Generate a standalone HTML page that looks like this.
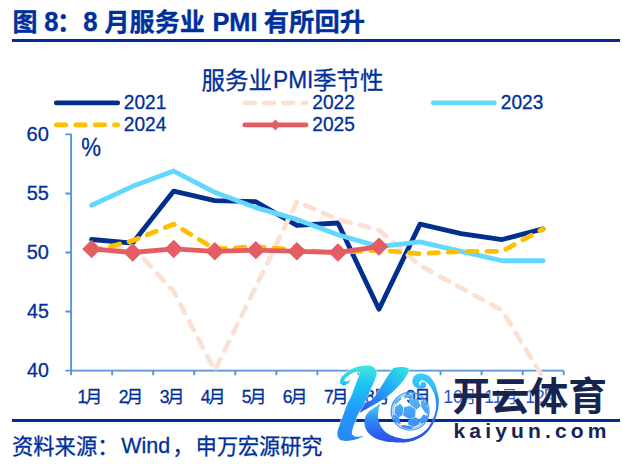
<!DOCTYPE html>
<html lang="zh"><head><meta charset="utf-8"><title>图 8：8 月服务业 PMI 有所回升</title>
<style>
html,body{margin:0;padding:0;background:#fff;overflow:hidden}
body{width:622px;height:464px;position:relative;font-family:"Liberation Sans",sans-serif}
svg{position:absolute;left:0;top:0;display:block}
svg [fill="#002f99"]{stroke:#002f99;stroke-width:.3px}
</style></head><body>
<svg width="622" height="464" viewBox="0 0 622 464">
<g font-family="'Liberation Sans', 'Noto Sans CJK SC', sans-serif" font-weight="bold" fill="#003099" stroke="#003099" stroke-width=".35"><text x="12.5" y="31" font-size="25" font-weight="bold">图</text><text x="57" y="31" font-size="25" font-weight="bold">：</text><text x="104.5" y="31" font-size="25.1" font-weight="bold">月服务业</text><text x="263.8" y="31" font-size="25.3" font-weight="bold">有所回升</text></g>
<g font-family="Liberation Sans, sans-serif" font-weight="bold" fill="#003099" stroke="#003099" stroke-width=".35"><text transform="translate(44.19 31.04) scale(0.9412 1)" font-size="27.12" font-weight="bold">8</text><text transform="translate(83.28 31.04) scale(0.9487 1)" font-size="27.12" font-weight="bold">8</text><text transform="translate(212.40 30.80) scale(0.9588 1)" font-size="26.45" font-weight="bold">PMI</text></g>
<rect x="12" y="39" width="608" height="3" fill="#002c94"/>
<rect x="12" y="419" width="608" height="3" fill="#002c94"/>
<g font-family="'Liberation Sans', 'Noto Sans CJK SC', sans-serif" fill="#002f99"><text x="201.5" y="88.8" font-size="23.5">服务业</text><text x="313" y="88.8" font-size="23.5">季节性</text></g>
<g font-family="Liberation Sans, sans-serif" fill="#002f99"><text transform="translate(273.04 87.90) scale(0.9352 1)" font-size="24.27">PMI</text></g>
<g fill="none" stroke-width="4.8" stroke-linecap="round">
<path stroke="#002f8e" d="M56.3 102.9H117.7"/>
<path stroke="#fbe0d4" stroke-dasharray="9.6 9.8" d="M244.8 102.9H306"/>
<path stroke="#64d7fe" d="M433.3 102.9H494.3"/>
<path stroke="#ffc000" stroke-dasharray="9.6 9.8" d="M56.3 124.9H117.7"/>
<path stroke="#e35e62" d="M244.8 124.9H306"/>
</g>
<path fill="#e35e62" d="M275.4 119.4l5.1 5.5l-5.1 5.5l-5.1-5.5z"/>
<g font-family="Liberation Sans, sans-serif" fill="#002f99"><text transform="translate(123.84 108.81) scale(0.9736 1)" font-size="19.63">2021</text><text transform="translate(312.34 108.81) scale(0.9736 1)" font-size="19.63">2022</text><text transform="translate(500.84 108.81) scale(0.9736 1)" font-size="19.63">2023</text><text transform="translate(123.84 130.91) scale(0.9736 1)" font-size="19.63">2024</text><text transform="translate(312.34 130.91) scale(0.9736 1)" font-size="19.63">2025</text></g>
<path fill="none" stroke="#5796d5" stroke-width="1.9" d="M71.1 133.5V375.3M65.3 370.6H563.7M65.3 134.4H71.1M65.3 193.45H71.1M65.3 252.5H71.1M65.3 311.55H71.1M112.15 370.6V375.3M153.2 370.6V375.3M194.25 370.6V375.3M235.3 370.6V375.3M276.35 370.6V375.3M317.4 370.6V375.3M358.45 370.6V375.3M399.5 370.6V375.3M440.55 370.6V375.3M481.6 370.6V375.3M522.65 370.6V375.3M563.7 370.6V375.3"/>
<g font-family="Liberation Sans, sans-serif" fill="#002f99">
<text transform="translate(26.48 141.20) scale(1.0045 1)" font-size="20.06">60</text>
<text transform="translate(26.70 200.25) scale(0.9825 1)" font-size="20.35">55</text>
<text transform="translate(26.70 259.30) scale(0.9941 1)" font-size="20.06">50</text>
<text transform="translate(27.05 318.35) scale(0.9665 1)" font-size="20.35">45</text>
<text transform="translate(27.05 377.40) scale(0.9779 1)" font-size="20.06">40</text>
<text transform="translate(81.21 155.55) scale(0.8747 1)" font-size="25.44">%</text>
</g>
<g font-family="Liberation Sans, sans-serif" font-size="17.5" fill="#002f99">
<text x="77.6" y="402.6">1</text>
<text x="118.65" y="402.6">2</text>
<text x="159.7" y="402.6">3</text>
<text x="200.75" y="402.6">4</text>
<text x="241.8" y="402.6">5</text>
<text x="282.85" y="402.6">6</text>
<text x="323.9" y="402.6">7</text>
<text x="364.95" y="402.6">8</text>
<text x="406" y="402.6">9</text>
<text x="443.18" y="402.6" fill="#2450c8" stroke="none">10</text>
<text x="484.24" y="402.6" fill="#2450c8" stroke="none">11</text>
<text x="525.28" y="402.6" fill="#2450c8" stroke="none">12</text>
</g>
<g font-family="'Liberation Sans', 'Noto Sans CJK SC', sans-serif" font-size="17" fill="#002f99">
<text x="85.3" y="402.6">月</text>
<text x="126.35" y="402.6">月</text>
<text x="167.4" y="402.6">月</text>
<text x="208.45" y="402.6">月</text>
<text x="249.5" y="402.6">月</text>
<text x="290.55" y="402.6">月</text>
<text x="331.6" y="402.6">月</text>
<text x="372.65" y="402.6">月</text>
<text x="413.7" y="402.6">月</text>
<text x="459.6" y="402.6" fill="#2450c8" stroke="none">月</text>
<text x="500.65" y="402.6" fill="#2450c8" stroke="none">月</text>
<text x="541.7" y="402.6" fill="#2450c8" stroke="none">月</text>
</g>
<g fill="none" stroke-width="4.8" stroke-linejoin="round" stroke-linecap="round">
<polyline stroke="#002f8e" points="91.62,239.51 132.67,243.05 173.72,191.09 214.77,200.54 255.82,201.72 296.88,225.34 337.92,222.98 378.98,309.19 420.02,224.16 461.07,233.6 502.12,239.51 543.17,228.88"/>
<polyline stroke="#fbe0d4" stroke-dasharray="9.6 9.8" points="91.62,248.96 132.67,246.6 173.72,291.47 214.77,370.6 255.82,286.75 296.88,201.72 337.92,219.43 378.98,230.06 420.02,265.49 461.07,287.93 502.12,310.37 543.17,377.69"/>
<polyline stroke="#64d7fe" points="91.62,205.26 132.67,186.36 173.72,171.01 214.77,192.27 255.82,207.62 296.88,219.43 337.92,234.79 378.98,246.6 420.02,241.87 461.07,251.32 502.12,260.77 543.17,260.77"/>
<polyline stroke="#ffc000" stroke-dasharray="9.6 9.8" points="91.62,251.32 132.67,240.69 173.72,224.16 214.77,248.96 255.82,246.6 296.88,250.14 337.92,252.5 378.98,250.14 420.02,253.68 461.07,251.32 502.12,251.32 543.17,228.88"/>
<polyline stroke="#e35e62" points="91.62,248.96 132.67,252.5 173.72,248.96 214.77,251.32 255.82,250.14 296.88,251.32 337.92,252.5 378.98,246.6"/>
</g>
<path fill="#e35e62" d="M91.62 239.76l9.4 9.2l-9.4 9.2l-9.4-9.2zM132.67 243.3l9.4 9.2l-9.4 9.2l-9.4-9.2zM173.72 239.76l9.4 9.2l-9.4 9.2l-9.4-9.2zM214.77 242.12l9.4 9.2l-9.4 9.2l-9.4-9.2zM255.82 240.94l9.4 9.2l-9.4 9.2l-9.4-9.2zM296.88 242.12l9.4 9.2l-9.4 9.2l-9.4-9.2zM337.92 243.3l9.4 9.2l-9.4 9.2l-9.4-9.2zM378.98 237.4l9.4 9.2l-9.4 9.2l-9.4-9.2z"/>
<g font-family="'Liberation Sans', 'Noto Sans CJK SC', sans-serif" fill="#002f99"><text x="12" y="453.7" font-size="21.3">资料来源：</text><text x="172.5" y="453.7" font-size="21.1">，</text><text x="195.8" y="453.7" font-size="21.1">申万宏源研究</text></g>
<g font-family="Liberation Sans, sans-serif" fill="#002f99"><text transform="translate(121.31 453.08) scale(0.9511 1)" font-size="22.60">Wind</text></g>
<g><defs>
<linearGradient id="gA" gradientUnits="userSpaceOnUse" x1="0" y1="365" x2="0" y2="441">
<stop offset="0" stop-color="#3fe8dc"/><stop offset=".27" stop-color="#1cc2f5"/><stop offset=".6" stop-color="#2299f8"/><stop offset="1" stop-color="#2a86f5"/></linearGradient>
<linearGradient id="gB" gradientUnits="userSpaceOnUse" x1="405" y1="367" x2="362" y2="411">
<stop offset="0" stop-color="#2ee2e4"/><stop offset=".45" stop-color="#22a6f6"/><stop offset=".75" stop-color="#2a78f2"/><stop offset="1" stop-color="#2a52ec"/></linearGradient>
<linearGradient id="gC" gradientUnits="userSpaceOnUse" x1="0" y1="403" x2="0" y2="443">
<stop offset="0" stop-color="#4ad2fa"/><stop offset=".4" stop-color="#2e8ef6"/><stop offset=".8" stop-color="#2a5ef0"/><stop offset="1" stop-color="#2a50ee"/></linearGradient>
<linearGradient id="gD" gradientUnits="userSpaceOnUse" x1="0" y1="373" x2="0" y2="443">
<stop offset="0" stop-color="#3ad6fa"/><stop offset=".2" stop-color="#34baf9"/><stop offset=".42" stop-color="#2e90f8"/><stop offset=".7" stop-color="#2a62f2"/><stop offset="1" stop-color="#2a50ee"/></linearGradient>
<linearGradient id="gE" gradientUnits="userSpaceOnUse" x1="0" y1="394" x2="0" y2="430">
<stop offset="0" stop-color="#52bcf6"/><stop offset="1" stop-color="#3888f6"/></linearGradient>
</defs>
<path fill="url(#gB)" stroke="#fff" stroke-opacity=".5" stroke-width="1.8" paint-order="stroke" stroke-linejoin="round" d="M393.3 367.9C393.3 367.9 396.63 367.3 398.5 367.2C400.37 367.1 402.78 367 404.5 367.3C406.22 367.6 408.32 367.85 408.8 369C409.28 370.15 408.45 372.12 407.4 374.2C406.35 376.28 404.3 379.18 402.5 381.5C400.7 383.82 398.58 386.07 396.6 388.1C394.62 390.13 392.6 392 390.6 393.7C388.6 395.4 386.63 396.88 384.6 398.3C382.57 399.72 381.12 400.58 378.4 402.2C375.68 403.82 371.47 406.2 368.3 408C365.13 409.8 359.4 413 359.4 413C359.4 413 363.5 403 363.5 403C363.5 403 369.5 401.65 371.9 399.8C374.3 397.95 375.58 395.37 377.9 391.9C380.22 388.43 383.23 383 385.8 379C388.37 375 393.3 367.9 393.3 367.9Z"/>
<path fill="url(#gA)" stroke="#fff" stroke-opacity=".5" stroke-width="1.8" paint-order="stroke" stroke-linejoin="round" d="M366.9 365.4C368.82 365.43 370.58 365.55 372 366.2C373.42 366.85 374.62 368.13 375.4 369.3C376.18 370.47 376.95 371.08 376.7 373.2C376.45 375.32 375.28 378.55 373.9 382C372.52 385.45 370.23 389.92 368.4 393.9C366.57 397.88 364.48 402.8 362.9 405.9C361.32 409 360.15 410 358.9 412.5C357.65 415 356.45 418.17 355.4 420.9C354.35 423.63 353.18 426.78 352.6 428.9C352.02 431.02 351.6 432.38 351.9 433.6C352.2 434.82 353.23 435.67 354.4 436.2C355.57 436.73 357.15 436.95 358.9 436.8C360.65 436.65 364.9 435.3 364.9 435.3C364.9 435.3 361.73 437.22 359.9 438C358.07 438.78 356.05 439.52 353.9 440C351.75 440.48 349.12 440.85 347 440.9C344.88 440.95 342.7 440.97 341.2 440.3C339.7 439.63 338.62 438.3 338 436.9C337.38 435.5 337.17 434.07 337.5 431.9C337.83 429.73 338.92 427.05 340 423.9C341.08 420.75 342.7 416.48 344 413C345.3 409.52 346.57 405.85 347.8 403C349.03 400.15 350.13 398.92 351.4 395.9C352.67 392.88 354.15 388.22 355.4 384.9C356.65 381.58 358.08 378.12 358.9 376C359.72 373.88 360.3 372.2 360.3 372.2C360.3 372.2 357.12 371.62 355.4 372C353.68 372.38 351.7 373.43 350 374.5C348.3 375.57 346.12 377.35 345.2 378.4C344.28 379.45 344.12 380.32 344.5 380.8C344.88 381.28 346.5 381.53 347.5 381.3C348.5 381.07 350.5 379.4 350.5 379.4C350.5 379.4 349.92 381.62 349 382.6C348.08 383.58 346.25 385 345 385.3C343.75 385.6 342.33 385.05 341.5 384.4C340.67 383.75 340 382.58 340 381.4C340 380.22 340.33 378.87 341.5 377.3C342.67 375.73 344.93 373.55 347 372C349.07 370.45 351.65 369 353.9 368C356.15 367 358.33 366.43 360.5 366C362.67 365.57 364.98 365.37 366.9 365.4Z"/>
<path fill="url(#gC)" d="M380.4 403.5C380.4 403.5 375.9 406.55 373.9 408C371.9 409.45 369.82 410.72 368.4 412.2C366.98 413.68 366.07 415.12 365.4 416.9C364.73 418.68 364.32 420.9 364.4 422.9C364.48 424.9 364.98 426.98 365.9 428.9C366.82 430.82 368.23 432.82 369.9 434.4C371.57 435.98 373.57 437.32 375.9 438.4C378.23 439.48 381.55 440.28 383.9 440.9C386.25 441.52 387.98 441.83 390 442.1C392.02 442.37 393.67 442.43 396 442.5C398.33 442.57 404 442.5 404 442.5C404 442.5 404 438.9 404 438.9C404 438.9 398.03 437.75 396 437.2C393.97 436.65 393.33 436.32 391.8 435.6C390.27 434.88 388.45 434.18 386.8 432.9C385.15 431.62 383.22 429.73 381.9 427.9C380.58 426.07 379.57 423.88 378.9 421.9C378.23 419.92 377.95 417.98 377.9 416C377.85 414.02 378.18 412.08 378.6 410C379.02 407.92 380.4 403.5 380.4 403.5Z"/>
<path fill="url(#gD)" d="M403.8 442.5C403.8 442.5 410.72 441.5 413.9 440.4C417.08 439.3 420.23 437.82 422.9 435.9C425.57 433.98 427.9 431.55 429.9 428.9C431.9 426.25 433.57 423.15 434.9 420C436.23 416.85 437.23 413.33 437.9 410C438.57 406.67 438.98 403.02 438.9 400C438.82 396.98 438.23 394.9 437.4 391.9C436.57 388.9 435.48 384.78 433.9 382C432.32 379.22 430.23 376.62 427.9 375.2C425.57 373.78 422.12 373.4 419.9 373.5C417.68 373.6 415.85 374.65 414.6 375.8C413.35 376.95 412.6 378.87 412.4 380.4C412.2 381.93 412.65 383.75 413.4 385C414.15 386.25 415.48 387.28 416.9 387.9C418.32 388.52 420.48 388.8 421.9 388.7C423.32 388.6 424.65 387.88 425.4 387.3C426.15 386.72 426.43 385.98 426.4 385.2C426.37 384.42 425.83 383.13 425.2 382.6C424.57 382.07 423.37 381.87 422.6 382C421.83 382.13 420.97 382.8 420.6 383.4C420.23 384 420.4 385.6 420.4 385.6C420.4 385.6 419.37 385 419.2 384.4C419.03 383.8 418.93 382.7 419.4 382C419.87 381.3 420.77 380.1 422 380.2C423.23 380.3 425.3 381.38 426.8 382.6C428.3 383.82 429.7 385.43 431 387.5C432.3 389.57 433.77 392.25 434.6 395C435.43 397.75 435.83 401.33 436 404C436.17 406.67 436.1 408.5 435.6 411C435.1 413.5 434.28 416.18 433 419C431.72 421.82 429.92 425.42 427.9 427.9C425.88 430.38 423.57 432.23 420.9 433.9C418.23 435.57 414.75 437.07 411.9 437.9C409.05 438.73 403.8 438.9 403.8 438.9C403.8 438.9 403.8 442.5 403.8 442.5Z"/>
<circle cx="410.1" cy="411.3" r="18.9" fill="none" stroke="#3b98f5" stroke-width="1.3"/>
<circle cx="410.1" cy="411.3" r="17.2" fill="none" stroke="#48a6f6" stroke-width="0.9"/>
<path fill="url(#gE)" d="M403.8 407.6L410.1 405.7L415.7 409.5L415.1 416.4L409.5 418.9L403.2 415.7ZM395 407L400.1 403.8L403.2 407L402.6 415.1L398.8 417.6L394.4 413.2ZM409.5 398.8L417.6 398.8L420.8 406.3L416.4 409.5L410.7 405.1L408.8 401.3ZM403.8 395.4L410 394.6L414.2 396L413.5 398L408.5 397.4L404.5 398.4ZM408.2 420.1L415.1 417L420.1 420.1L418.9 424.5L413.2 427L408.2 424.5ZM420.8 400.7L423.9 400.1L428.1 408.8L428.3 413.9L425.1 412.6L421.4 407ZM423.3 414.5L428.1 416.4L425.8 421.4L420.8 423.9L419.5 420.1ZM392.5 415.1L395 414.5L399.4 418.2L400.7 423.9L397.6 423.3L393.8 419.5ZM401.9 425.1L409.5 425.8L413.2 427.7L410.7 428.9L404.5 428.3L401.3 426.7ZM394.6 402.5L396.5 399.5L401 397L401.3 399.5L398 402L395.8 405Z"/>
<text x="452" y="409.5" font-family="'Liberation Sans', 'Noto Sans CJK SC', sans-serif" font-size="38.5" font-weight="bold" fill="#16254f" stroke="#fff" stroke-opacity=".5" stroke-width="1.8" paint-order="stroke" stroke-linejoin="round" textLength="155" lengthAdjust="spacingAndGlyphs">开云体育</text>
<text x="453.5" y="437.6" font-family="'Liberation Sans', sans-serif" font-size="21" font-weight="bold" fill="#16254f" textLength="153" lengthAdjust="spacing">kaiyun.com</text></g>
</svg>
</body></html>
